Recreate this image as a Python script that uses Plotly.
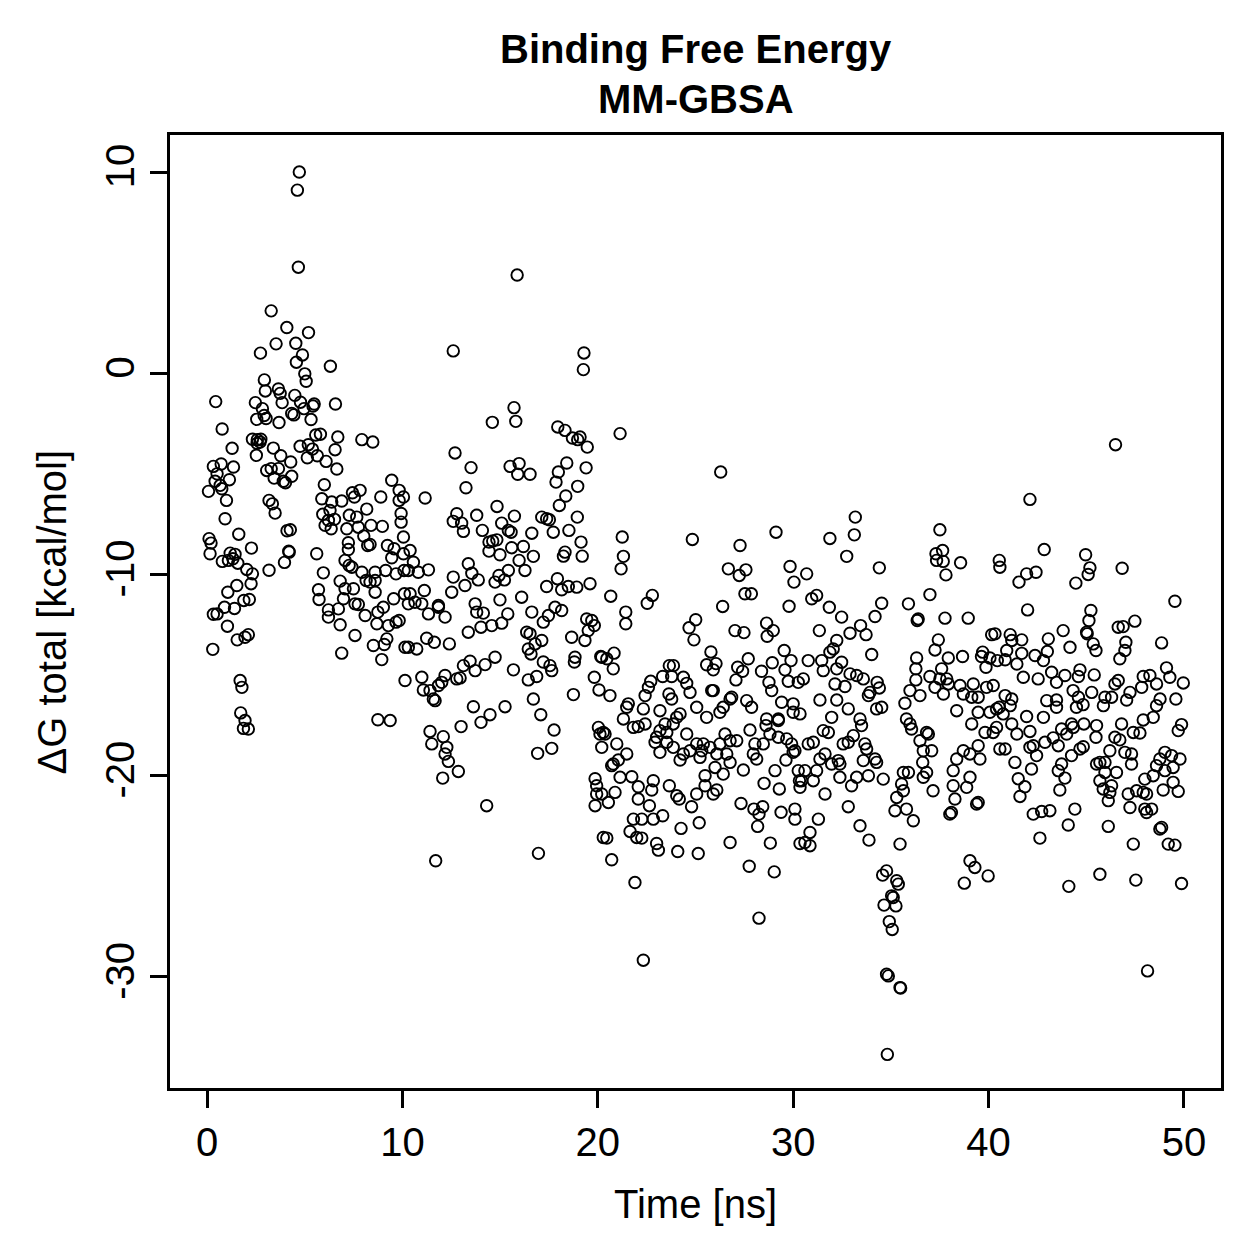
import plotly.graph_objects as go

# (time [ns], dG total [kcal/mol]), grouped by time window
obs_00_10 = [
    (4.72, 10.0), (4.62, 9.1), (4.67, 5.27), (3.28, 3.1), (4.08, 2.27), (5.19, 2.02), (3.53, 1.46), (4.54, 1.49),
    (2.73, 1.0), (4.88, 0.91), (4.57, 0.55), (6.31, 0.35), (5.0, -0.03), (5.07, -0.4), (2.93, -0.33), (2.98, -0.88),
    (3.65, -0.78), (3.74, -1.0), (4.49, -1.1), (0.44, -1.41), (2.47, -1.46), (3.84, -1.46), (4.78, -1.44), (4.96, -1.76),
    (5.48, -1.53), (5.42, -1.63), (6.57, -1.53), (2.83, -1.76), (2.92, -2.1), (3.02, -2.25), (2.54, -2.29), (4.33, -2.0),
    (4.44, -2.07), (3.68, -2.45), (5.32, -2.3), (0.77, -2.77), (2.32, -3.28), (2.57, -3.3), (2.71, -3.42), (2.56, -3.48),
    (2.75, -3.28), (3.39, -3.72), (1.28, -3.73), (4.76, -3.63), (5.18, -3.55), (5.39, -3.77), (5.56, -3.07), (5.8, -3.03),
    (6.69, -3.17), (6.55, -3.8), (7.92, -3.3), (8.48, -3.42), (2.52, -4.08), (3.77, -4.1), (4.28, -4.41), (5.13, -4.2),
    (5.64, -4.1), (6.09, -4.38), (6.64, -4.76), (0.32, -4.63), (0.72, -4.51), (1.35, -4.66), (0.51, -5.0), (0.41, -5.37),
    (1.14, -5.29), (0.67, -5.57), (0.07, -5.87), (0.75, -5.74), (0.99, -6.32), (3.05, -4.83), (3.28, -4.74), (3.65, -4.74),
    (3.43, -5.21), (3.9, -5.37), (4.01, -5.44), (4.33, -5.12), (6.0, -5.54), (7.44, -5.94), (7.83, -5.82), (7.54, -6.15),
    (8.89, -6.15), (9.45, -5.32), (9.83, -5.82), (5.87, -6.24), (6.38, -6.4), (6.89, -6.35), (8.17, -6.75), (7.28, -7.06),
    (6.29, -6.82), (5.92, -7.01), (3.17, -6.32), (3.34, -6.49), (3.48, -6.95), (0.92, -7.23), (9.83, -6.32), (9.93, -6.97),
    (1.62, -8.0), (0.1, -8.22), (0.2, -8.44), (0.15, -8.97), (2.27, -8.69), (4.09, -7.83), (4.26, -7.78), (4.18, -8.84),
    (3.96, -9.4), (4.2, -8.89), (1.18, -8.94), (1.43, -9.0), (1.32, -9.22), (1.09, -9.3), (0.78, -9.35), (1.57, -9.44),
    (2.03, -9.75), (2.32, -9.97), (3.17, -9.79), (2.25, -10.46), (1.52, -10.55), (1.06, -10.88), (2.16, -11.24), (1.88, -11.29),
    (0.89, -11.63), (1.4, -11.69), (0.51, -11.96), (0.32, -11.98), (1.04, -12.57), (1.54, -13.25), (1.94, -13.12), (2.11, -12.99),
    (0.29, -13.72), (1.69, -15.27), (1.78, -15.61), (1.72, -16.88), (1.94, -17.26), (1.86, -17.65), (2.11, -17.68),
    (6.21, -7.31), (6.52, -7.26), (6.35, -7.73), (6.04, -7.56), (7.66, -7.15), (7.15, -7.73), (7.74, -7.65), (8.39, -7.56),
    (8.97, -7.61), (9.93, -7.4), (8.02, -8.09), (8.22, -8.56), (8.34, -8.51), (7.23, -8.42), (7.23, -8.76), (9.23, -8.56),
    (9.57, -8.72), (9.45, -9.17), (10.05, -8.97), (5.61, -8.97), (7.06, -9.3), (7.27, -9.55), (7.41, -9.64), (7.92, -9.89),
    (8.6, -9.89), (9.14, -9.8), (9.67, -9.97), (10.08, -9.8), (5.95, -9.92), (6.81, -10.33), (7.06, -10.71), (7.49, -10.71),
    (8.14, -10.3), (8.34, -10.38), (8.6, -10.3), (8.6, -10.88), (5.7, -10.76), (5.73, -11.24), (6.21, -11.76), (6.21, -12.12),
    (6.72, -11.71), (6.98, -11.21), (7.57, -11.46), (7.74, -11.49), (8.09, -12.04), (8.74, -11.87), (9.02, -11.63), (9.55, -11.21),
    (10.1, -10.96), (6.81, -12.5), (7.57, -13.03), (8.69, -12.45), (9.28, -12.54), (9.67, -12.37), (9.83, -12.29), (9.2, -13.2),
    (9.07, -13.48), (8.51, -13.53), (6.89, -13.91), (8.94, -14.23), (10.13, -13.62), (10.13, -15.27), (8.74, -17.22), (9.37, -17.26),
]

obs_10_20 = [
    (15.87, 4.88), (12.6, 1.11), (19.29, 1.01), (19.26, 0.18), (15.71, -1.71), (15.8, -2.39), (14.6, -2.44), (17.95, -2.67),
    (18.32, -2.84), (18.7, -3.22), (19.09, -3.17), (18.97, -3.3), (19.46, -3.67), (12.69, -3.96), (13.51, -4.69), (13.25, -5.69),
    (15.51, -4.63), (15.97, -4.49), (15.9, -5.02), (16.53, -5.02), (18.41, -4.46), (17.98, -4.91), (17.86, -5.41), (19.4, -4.7),
    (18.97, -5.62), (18.36, -6.1), (18.03, -6.57), (18.95, -7.15), (18.52, -7.81), (19.14, -8.39), (19.2, -9.09), (18.32, -8.89),
    (18.24, -9.09), (11.16, -6.2), (14.84, -6.62), (13.8, -7.06), (12.78, -6.98), (12.6, -7.36), (13.03, -7.45), (13.12, -7.86),
    (14.09, -7.81), (15.08, -7.45), (15.73, -7.1), (15.42, -7.81), (15.56, -7.9), (16.62, -7.95), (17.13, -7.15), (17.38, -7.23),
    (17.52, -7.28), (17.72, -7.9), (14.43, -8.39), (14.62, -8.34), (14.83, -8.28), (14.43, -8.84), (14.99, -9.02), (15.59, -8.67),
    (16.19, -8.61), (16.7, -9.1), (13.37, -9.47), (13.55, -9.94), (13.88, -10.27), (12.6, -10.13), (12.52, -10.88), (13.2, -10.55),
    (14.74, -10.38), (14.94, -10.05), (15.22, -10.27), (15.42, -9.8), (15.97, -9.3), (16.27, -9.8), (17.38, -10.6), (17.93, -10.21),
    (18.15, -10.76), (18.49, -10.6), (18.92, -10.63), (19.6, -10.46), (16.1, -11.13), (14.99, -11.26), (13.72, -11.46), (11.84, -11.54),
    (11.12, -10.8), (10.39, -10.96), (10.3, -9.8), (10.81, -9.89), (11.33, -9.77), (10.56, -9.39), (10.39, -8.81), (10.05, -8.14),
    (10.05, -6.15), (10.99, -15.11), (11.07, -15.74), (11.41, -15.77), (11.58, -16.19), (11.67, -16.27), (11.84, -15.52), (12.01, -15.36),
    (12.18, -15.02), (12.78, -15.19), (12.95, -15.14), (13.12, -14.53), (13.46, -14.31), (13.72, -14.78), (14.23, -14.48), (14.74, -14.11),
    (15.68, -14.74), (16.44, -15.24), (16.87, -15.07), (17.21, -14.35), (17.64, -14.78), (17.55, -14.53), (18.8, -14.35), (18.83, -14.11),
    (18.75, -15.97), (19.82, -15.11), (20.06, -15.74), (20.2, -14.11), (10.3, -13.62), (10.73, -13.7), (11.24, -13.17), (11.63, -13.37),
    (12.4, -13.45), (13.37, -12.87), (14.02, -12.62), (14.57, -12.54), (15.08, -12.42), (15.39, -11.96), (13.8, -11.87), (14.14, -11.92),
    (16.62, -11.87), (17.21, -12.37), (17.47, -12.04), (17.81, -11.63), (18.15, -11.79), (16.36, -12.87), (16.53, -12.95), (17.13, -13.28),
    (16.79, -13.45), (16.44, -13.7), (16.58, -13.95), (18.66, -13.12), (19.34, -13.28), (19.51, -12.79), (19.69, -12.29), (19.82, -12.54),
    (19.43, -12.21), (10.3, -11.46), (10.64, -11.38), (10.99, -11.46), (11.33, -11.96), (11.84, -11.63), (12.18, -12.12), (13.63, -16.57),
    (14.02, -17.35), (14.48, -16.97), (15.25, -16.57), (13.0, -17.56), (11.41, -17.8), (12.09, -18.06), (11.5, -18.42), (12.27, -18.59),
    (12.18, -18.92), (12.35, -19.29), (12.86, -19.79), (12.06, -20.12), (16.7, -16.19), (17.08, -16.97), (17.76, -17.73), (17.64, -18.64),
    (16.92, -18.89), (14.31, -21.49), (11.7, -24.23), (16.96, -23.86), (19.86, -20.15), (19.94, -20.5), (19.94, -20.91), (19.86, -21.49),
    (20.11, -17.93), (20.03, -17.6), (20.2, -18.59), (20.28, -23.07),
]

obs_20_30 = [
    (21.14, -3.0), (26.29, -4.91), (21.25, -8.14), (21.31, -9.1), (21.19, -9.72), (24.84, -8.26), (29.12, -7.9), (27.28, -8.56),
    (26.68, -9.72), (27.24, -10.05), (27.58, -9.77), (29.84, -9.6), (30.04, -10.38), (20.66, -11.08), (22.79, -11.04), (22.53, -11.43),
    (21.43, -11.87), (21.43, -12.45), (27.53, -10.96), (27.86, -10.96), (26.39, -11.59), (29.79, -11.58), (24.67, -12.65), (25.01, -12.25),
    (24.92, -13.25), (27.02, -12.79), (27.48, -12.89), (28.64, -12.42), (28.67, -13.07), (28.98, -12.79), (20.15, -14.08), (20.46, -14.19),
    (20.83, -13.91), (20.79, -14.69), (25.79, -13.85), (25.57, -14.49), (26.05, -14.43), (25.91, -14.74), (27.7, -14.19), (27.16, -14.61),
    (27.41, -14.81), (27.07, -15.24), (28.38, -14.81), (28.93, -14.39), (29.54, -13.78), (29.89, -14.28), (29.58, -14.74), (29.75, -15.31),
    (20.62, -16.02), (23.66, -14.53), (23.87, -14.53), (23.78, -15.07), (23.32, -15.07), (22.71, -15.31), (22.59, -15.61), (22.42, -16.02),
    (24.38, -15.11), (24.55, -15.41), (24.72, -15.86), (23.64, -15.94), (23.78, -16.19), (25.83, -15.77), (25.91, -15.77), (26.77, -16.19),
    (26.85, -16.1), (27.62, -16.27), (27.87, -16.6), (28.76, -15.36), (28.9, -15.77), (29.41, -16.35), (30.0, -16.43), (30.26, -15.36),
    (21.56, -16.43), (21.48, -16.6), (22.33, -16.68), (23.18, -16.77), (24.21, -16.93), (25.06, -16.6), (26.42, -16.6), (26.25, -16.85),
    (21.31, -17.18), (24.04, -17.1), (25.57, -17.1), (28.64, -17.18), (29.24, -17.18), (30.0, -16.85), (21.82, -17.6), (22.07, -17.56),
    (22.42, -17.43), (20.28, -17.85), (20.37, -17.93), (20.97, -18.42), (21.48, -18.92), (21.05, -19.22), (20.79, -19.42), (20.71, -19.5),
    (21.14, -20.08), (21.74, -20.05), (20.2, -20.91), (20.54, -21.33), (20.88, -20.83), (22.07, -20.55), (22.76, -20.71), (22.84, -20.25),
    (23.66, -20.5), (24.04, -21.0), (24.17, -21.16), (24.8, -21.54), (25.06, -20.91), (25.49, -20.0), (25.49, -20.5), (25.91, -20.91),
    (26.09, -20.71), (22.64, -21.49), (22.84, -22.16), (23.32, -21.99), (22.07, -21.16), (21.82, -22.16), (22.25, -22.16), (21.65, -22.77),
    (21.99, -23.07), (22.25, -23.1), (23.01, -23.37), (23.1, -23.7), (20.46, -23.1), (20.71, -24.18), (21.9, -25.31), (22.33, -29.17),
    (24.09, -23.77), (24.26, -22.62), (25.14, -23.87), (25.19, -22.34), (26.77, -23.32), (27.33, -21.38), (27.75, -24.5), (27.99, -21.66),
    (28.25, -21.91), (28.44, -21.54), (28.18, -22.52), (28.25, -27.08), (28.83, -23.35), (29.03, -24.78), (29.38, -21.82), (30.09, -21.66),
    (30.09, -22.16), (30.35, -23.37), (29.29, -20.66), (29.07, -19.75), (28.51, -20.38), (30.32, -20.25), (30.26, -19.75), (27.45, -19.72),
    (26.42, -19.92), (26.77, -19.34), (26.6, -18.92), (26.09, -18.92), (26.0, -19.59), (25.23, -19.09), (25.32, -18.76), (24.72, -18.76),
    (24.21, -19.22), (24.38, -18.92), (23.86, -18.59), (23.53, -18.34), (23.18, -18.84), (22.93, -18.34), (23.01, -18.09), (23.18, -17.76),
    (23.53, -17.85), (23.44, -17.43), (23.86, -17.43), (24.55, -17.93), (25.06, -18.42), (25.4, -18.42), (25.74, -18.59), (26.25, -18.42),
    (26.51, -17.93), (26.77, -18.26), (27.11, -18.26), (27.79, -17.73), (28.04, -18.42), (28.47, -18.42), (27.96, -18.92), (28.13, -19.17),
    (28.81, -17.93), (29.24, -18.09), (29.67, -18.17), (29.92, -18.42), (30.0, -18.84), (29.63, -19.22), (28.61, -17.51), (29.24, -17.26),
]

obs_30_40 = [
    (33.18, -7.15), (33.13, -8.03), (31.88, -8.21), (32.74, -9.1), (34.41, -9.67), (37.51, -7.78), (37.31, -8.97), (37.65, -8.81),
    (37.34, -9.3), (37.68, -9.35), (37.82, -10.02), (38.57, -9.42), (40.55, -9.3), (40.58, -9.64), (30.69, -9.97), (31.2, -11.04),
    (30.95, -11.21), (31.85, -11.63), (32.48, -12.12), (34.53, -11.43), (34.19, -12.09), (33.45, -12.54), (33.73, -12.99), (32.91, -12.92),
    (32.23, -13.28), (32.05, -13.7), (31.88, -13.86), (31.34, -12.79), (35.9, -11.46), (37.0, -11.0), (36.4, -12.21), (36.35, -12.29),
    (37.77, -12.17), (38.96, -12.17), (40.16, -12.99), (40.33, -12.95), (37.43, -13.25), (37.26, -13.75), (36.32, -14.15), (37.94, -14.15),
    (38.67, -14.08), (39.7, -13.86), (39.64, -14.08), (40.07, -14.15), (39.87, -14.61), (40.45, -14.28), (36.28, -14.69), (37.6, -14.69),
    (36.28, -15.24), (37.0, -15.07), (37.26, -15.61), (37.51, -15.19), (37.86, -15.19), (37.94, -15.44), (38.54, -15.52), (38.71, -15.94),
    (39.22, -15.44), (39.14, -16.1), (39.47, -16.1), (39.9, -15.61), (40.24, -15.52), (35.72, -16.4), (35.98, -15.77), (36.49, -16.02),
    (37.69, -15.94), (38.37, -16.77), (39.47, -16.85), (40.07, -16.85), (40.55, -16.6), (35.8, -17.18), (30.77, -14.28), (31.46, -14.28),
    (31.54, -14.78), (32.23, -14.69), (32.48, -14.36), (30.52, -15.19), (32.14, -15.44), (32.65, -15.57), (32.91, -14.94), (33.25, -15.02),
    (33.59, -15.19), (34.02, -13.98), (34.3, -15.36), (34.41, -15.64), (33.93, -15.86), (33.85, -16.02), (31.37, -16.24), (32.23, -16.24),
    (30.35, -16.93), (32.82, -16.68), (34.27, -16.68), (34.53, -16.6), (31.97, -17.1), (33.42, -17.18), (33.5, -17.51), (31.54, -17.76),
    (31.8, -17.85), (30.77, -18.42), (31.03, -18.34), (30.09, -18.76), (32.56, -18.42), (32.82, -18.34), (33.08, -18.01), (33.67, -18.42),
    (33.76, -18.67), (31.63, -18.92), (31.37, -19.17), (31.97, -19.42), (32.31, -19.25), (32.39, -19.42), (33.59, -19.25), (34.19, -19.17),
    (34.27, -19.34), (30.6, -19.75), (31.2, -19.75), (31.03, -20.25), (30.43, -20.25), (30.35, -20.58), (32.39, -20.08), (32.99, -20.5),
    (33.25, -20.08), (33.85, -20.0), (34.61, -20.17), (31.63, -20.91), (32.82, -21.54), (31.29, -22.16), (30.86, -22.82), (30.6, -23.32),
    (30.86, -23.48), (33.42, -22.49), (33.88, -23.2), (35.47, -23.4), (35.21, -21.74), (35.8, -21.66), (36.15, -22.24), (35.3, -21.08),
    (35.64, -20.75), (35.55, -20.41), (35.64, -19.84), (35.9, -19.84), (36.66, -20.08), (36.83, -19.84), (36.63, -19.34), (36.66, -18.76),
    (37.09, -18.76), (36.49, -18.26), (36.83, -17.85), (36.92, -17.93), (35.98, -17.43), (36.06, -17.68), (37.16, -20.75), (38.02, -21.91),
    (38.1, -21.83), (38.28, -21.16), (38.19, -20.5), (38.88, -20.58), (39.05, -20.08), (38.19, -19.75), (38.37, -19.17), (38.71, -18.76),
    (39.05, -18.92), (39.56, -19.17), (39.47, -18.51), (39.82, -17.85), (39.14, -17.43), (39.47, -21.33), (39.39, -21.41), (34.58, -24.94),
    (34.78, -24.73), (35.3, -25.22), (35.38, -25.39), (35.04, -25.97), (35.12, -26.05), (34.65, -26.43), (35.26, -26.47), (34.92, -27.25),
    (35.07, -27.64), (34.78, -29.87), (34.87, -29.95), (35.47, -30.53), (35.5, -30.55), (34.82, -33.85), (39.05, -24.23), (39.3, -24.56),
    (39.98, -24.98), (38.76, -25.34),
]

obs_40_50 = [
    (46.5, -3.55), (42.12, -6.27), (42.85, -8.76), (44.97, -9.02), (45.19, -9.67), (45.1, -10.0), (44.47, -10.43), (46.84, -9.69),
    (41.56, -10.38), (41.95, -9.97), (42.43, -9.89), (49.54, -11.33), (42.0, -11.76), (45.24, -11.79), (45.14, -12.29), (45.02, -12.87),
    (45.05, -12.95), (45.36, -13.45), (45.5, -13.78), (47.49, -12.32), (46.89, -12.59), (46.64, -12.62), (47.03, -13.37), (46.98, -13.78),
    (46.72, -14.19), (48.86, -13.4), (43.82, -12.79), (43.06, -13.2), (44.17, -13.62), (43.01, -13.83), (42.81, -14.28), (42.38, -14.03),
    (41.7, -13.92), (41.45, -14.45), (41.11, -12.99), (41.7, -13.25), (41.19, -13.28), (40.93, -13.78), (40.85, -14.24), (41.78, -15.11),
    (42.54, -15.19), (43.23, -14.86), (43.48, -15.36), (43.91, -15.02), (44.68, -14.74), (44.6, -15.07), (45.41, -14.99), (44.33, -15.77),
    (44.6, -16.1), (45.28, -15.86), (45.96, -16.1), (46.3, -16.1), (46.47, -15.44), (46.64, -15.27), (47.24, -15.86), (47.84, -15.61),
    (47.92, -15.07), (48.26, -15.02), (48.6, -15.44), (49.11, -14.64), (49.28, -15.11), (49.97, -15.39), (48.78, -16.19), (48.6, -16.52),
    (49.59, -16.19), (47.07, -16.24), (45.88, -16.52), (42.98, -16.27), (43.48, -16.24), (43.48, -16.6), (44.5, -16.6), (44.84, -16.47),
    (41.95, -17.06), (42.81, -17.1), (40.85, -16.02), (41.19, -16.19), (40.41, -16.68), (41.11, -16.52), (40.75, -16.93), (40.41, -17.6),
    (41.19, -17.43), (41.45, -17.93), (42.12, -17.8), (40.24, -17.85), (40.58, -18.67), (40.85, -18.67), (42.12, -18.59), (42.29, -18.51),
    (42.46, -19.0), (42.89, -18.34), (43.31, -18.12), (43.57, -18.51), (43.74, -17.68), (44.0, -17.93), (44.25, -17.43), (44.34, -17.6),
    (44.88, -17.43), (45.53, -17.51), (45.5, -18.09), (44.85, -18.56), (44.68, -18.67), (44.25, -19.0), (43.74, -19.42), (43.57, -19.75),
    (43.91, -20.12), (43.65, -20.71), (41.35, -19.34), (41.52, -20.15), (41.86, -20.55), (41.61, -21.03), (42.2, -19.67), (42.29, -21.91),
    (42.72, -21.78), (43.14, -21.74), (44.42, -21.66), (44.08, -22.45), (42.63, -23.1), (44.11, -25.5), (45.7, -24.9), (46.13, -22.52),
    (47.54, -25.19), (47.41, -23.4), (49.88, -25.36), (48.14, -29.7), (45.96, -19.34), (45.7, -19.34), (45.53, -19.42), (45.96, -19.84),
    (46.55, -19.84), (45.7, -20.25), (45.87, -20.66), (46.21, -20.83), (46.13, -21.24), (46.3, -20.5), (46.21, -18.76), (46.47, -18.09),
    (46.72, -18.22), (46.81, -17.43), (47.41, -17.85), (47.75, -17.88), (47.92, -17.23), (48.43, -17.1), (46.98, -18.84), (47.32, -18.92),
    (47.32, -19.42), (47.15, -20.91), (47.58, -20.75), (47.92, -20.83), (48.09, -20.91), (47.24, -21.58), (48.0, -21.66), (48.35, -21.66),
    (48.09, -21.83), (48.0, -20.17), (48.43, -20.0), (48.6, -19.5), (48.77, -19.17), (49.03, -18.84), (49.37, -19.0), (49.8, -19.17),
    (49.45, -19.59), (49.03, -19.75), (49.45, -20.33), (48.94, -20.71), (49.71, -20.78), (48.77, -22.65), (48.86, -22.57), (49.2, -23.4),
    (49.54, -23.45), (49.71, -17.76), (49.88, -17.46),
]

x_ticks = [0, 10, 20, 30, 40, 50]
y_ticks = [-30, -20, -10, 0, 10]
title_lines = ["Binding Free Energy", "MM-GBSA"]
x_label = "Time [ns]"
y_label = "ΔG total [kcal/mol]"

all_obs = obs_00_10 + obs_10_20 + obs_20_30 + obs_30_40 + obs_40_50
time_ns = [p[0] for p in all_obs]
dg_total = [p[1] for p in all_obs]

FONT = "Liberation Sans, Arial, Helvetica, sans-serif"

fig = go.Figure()
fig.add_trace(go.Scatter(
    x=time_ns, y=dg_total, mode="markers",
    marker=dict(symbol="circle-open", size=11.5, color="black", line=dict(width=1.9, color="black")),
    showlegend=False, hoverinfo="x+y",
))

axis_common = dict(
    showgrid=False, zeroline=False, showline=True, linecolor="black", linewidth=3, mirror=True,
    ticks="outside", ticklen=17, tickwidth=3, tickcolor="black",
    tickfont=dict(family=FONT, size=40, color="black"),
)
fig.update_xaxes(range=[-1.9, 51.9], tickvals=x_ticks, ticktext=[str(v) for v in x_ticks], **axis_common)
fig.update_yaxes(range=[-35.52, 11.84], tickvals=y_ticks, ticktext=[str(v) for v in y_ticks], tickangle=-90, **axis_common)

fig.update_layout(
    width=1259, height=1259,
    margin=dict(l=170, r=38, t=135, b=171, pad=0),
    paper_bgcolor="white", plot_bgcolor="white",
    font=dict(family=FONT, color="black"),
    annotations=[
        dict(text="<b>%s</b>" % title_lines[0], x=0.5, y=1.0902, xref="paper", yref="paper",
             showarrow=False, xanchor="center", yanchor="middle", font=dict(size=40, family=FONT)),
        dict(text="<b>%s</b>" % title_lines[1], x=0.5, y=1.0378, xref="paper", yref="paper",
             showarrow=False, xanchor="center", yanchor="middle", font=dict(size=40, family=FONT)),
        dict(text=x_label, x=0.5, y=-0.1217, xref="paper", yref="paper",
             showarrow=False, xanchor="center", yanchor="middle", font=dict(size=40, family=FONT)),
        dict(text=y_label, x=-0.1123, y=0.5, xref="paper", yref="paper", textangle=-90,
             showarrow=False, xanchor="center", yanchor="middle", font=dict(size=40, family=FONT)),
    ],
)

fig.write_html("out.html")
